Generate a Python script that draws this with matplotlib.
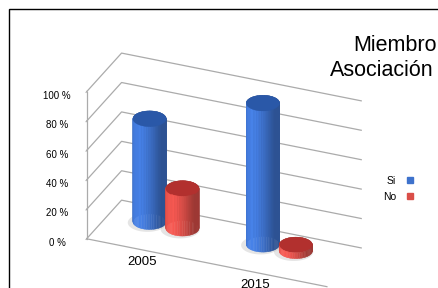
import numpy as np
import matplotlib
matplotlib.use("Agg")
import matplotlib.pyplot as plt
from mpl_toolkits.mplot3d.art3d import Poly3DCollection
from matplotlib.lines import Line2D
from matplotlib.patches import Rectangle

plt.rcParams['font.family'] = ['Liberation Sans', 'DejaVu Sans']

# ---- data ----
categories = ['2005', '2015']
series = ['Si', 'No']
si_values = [70, 96]
no_values = [27, 4]
y_ticks = [0, 20, 40, 60, 80, 100]
y_tick_labels = ['0 %', '20 %', '40 %', '60 %', '80 %', '100 %']

# ---- style ----
blue = np.array([62, 114, 204]) / 255
red = np.array([218, 78, 72]) / 255
blue_top = np.array([42, 88, 168]) / 255
red_top = np.array([178, 48, 46]) / 255
grid_col = '#ababab'

fig = plt.figure(figsize=(4.38, 2.88), dpi=100)
fig.patch.set_facecolor('white')
ax = fig.add_axes([0.027, -0.165, 0.95, 1.12], projection='3d',
                  proj_type='ortho', computed_zorder=False)
ax.view_init(elev=28, azim=-67)
box = (257, 88, 164)
ax.set_box_aspect(box, zoom=0.97)
xlo, xhi = -0.5, 1.62
ax.set_xlim(xlo, xhi)
ax.set_ylim(0, 1)
ax.set_zlim(0, 100)

for axis in (ax.xaxis, ax.yaxis, ax.zaxis):
    axis.set_pane_color((1, 1, 1, 0))
    axis.pane.set_edgecolor((1, 1, 1, 0))
    axis.line.set_color(grid_col)
    axis.line.set_linewidth(0.9)
ax.zaxis.pane.set_edgecolor(grid_col)
ax.zaxis.pane.set_linewidth(0.9)
ax.yaxis.line.set_color((1, 1, 1, 0))

ax.xaxis._axinfo['grid']['color'] = (1, 1, 1, 0)
ax.yaxis._axinfo['grid']['color'] = (1, 1, 1, 0)
ax.zaxis._axinfo['grid']['color'] = grid_col
ax.zaxis._axinfo['grid']['linewidth'] = 0.9

ax.set_zticks(y_ticks, y_tick_labels)
ax.set_xticks([0, 1], categories)
ax.set_yticks([])
ax.zaxis.set_ticks_position('lower')
ax.tick_params(axis='z', labelsize=7, pad=5, colors=grid_col, labelcolor='black')
ax.tick_params(axis='x', labelsize=9.5, pad=-4, colors=(1, 1, 1, 0), labelcolor='black')

# ---- cylinders ----
xs_scale = box[0] / (xhi - xlo)
ys_scale = box[1] / 1.0
rx = 0.135
ry = rx * xs_scale / ys_scale
depth = 0.65
offset = 0.145
light = np.deg2rad(-110)


def cylinder(xc, yc, h, base, topc, n=60):
    th = np.linspace(0, 2 * np.pi, n + 1)
    px = xc + rx * np.cos(th)
    py = yc + ry * np.sin(th)
    polys, cols = [], []
    for i in range(n):
        polys.append([(px[i], py[i], 0), (px[i + 1], py[i + 1], 0),
                      (px[i + 1], py[i + 1], h), (px[i], py[i], h)])
        mid = 0.5 * (th[i] + th[i + 1])
        f = 0.72 + 0.42 * max(0.0, np.cos(mid - light)) ** 1.5
        cols.append(np.clip(base * f, 0, 1))
    polys.append(list(zip(px, py, np.full_like(px, h))))
    cols.append(topc)
    return Poly3DCollection(polys, facecolors=cols, edgecolors=cols, linewidths=0.3)


def shadow(xc, yc, n=60):
    th = np.linspace(0, 2 * np.pi, n + 1)
    px = xc - 0.01 + rx * 1.18 * np.cos(th)
    py = yc - 0.03 + ry * 1.18 * np.sin(th)
    return Poly3DCollection([list(zip(px, py, np.zeros_like(px)))],
                            facecolors=[(0.75, 0.75, 0.75, 0.4)], edgecolors='none')


z = 2
for i in range(len(categories)):
    for j, (vals, c, tc) in enumerate([(si_values, blue, blue_top), (no_values, red, red_top)]):
        xc = i + (-offset if j == 0 else offset)
        sh = shadow(xc, depth)
        sh.set_zorder(1)
        ax.add_collection3d(sh)
        cyl = cylinder(xc, depth, vals[i], c, tc)
        cyl.set_zorder(z)
        z += 1
        ax.add_collection3d(cyl)

# ---- title & legend ----
fig.text(437 / 438, 1 - 51 / 288, 'Miembro', ha='right', va='baseline', fontsize=15.5)
fig.text(434 / 438, 1 - 76 / 288, 'Asociación', ha='right', va='baseline', fontsize=15.5)

handles = [Line2D([], [], marker='s', ls='', color=blue, markersize=4),
           Line2D([], [], marker='s', ls='', color=red, markersize=4)]
fig.legend(handles, series, loc='center left', bbox_to_anchor=(383 / 438, 1 - 189 / 288),
           frameon=False, markerfirst=False, fontsize=7.5, borderpad=0, borderaxespad=0,
           handletextpad=0.8, labelspacing=0.6, handlelength=1.0)

fig.patches.append(Rectangle((9 / 438, -0.1), 1.2, 1.1 - 9 / 288, transform=fig.transFigure,
                             fill=False, edgecolor='black', linewidth=1.0))

fig.savefig('out.png', dpi=100, facecolor='white')
